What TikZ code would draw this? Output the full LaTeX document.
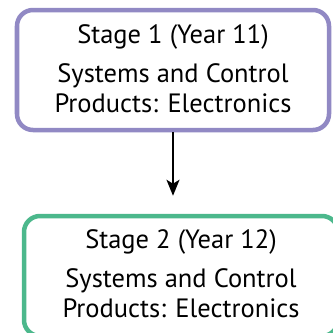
\documentclass[tikz,border=0pt]{standalone}
\usepackage{fontspec}
\setmainfont{PT Sans}
\usetikzlibrary{arrows.meta}
\definecolor{stagepurple}{RGB}{145,137,196}
\definecolor{stagegreen}{RGB}{76,184,140}
\begin{document}
\begin{tikzpicture}[x=1pt,y=-1pt,
  stagebox/.style={draw, line width=4.5pt, rounded corners=16pt, minimum width=312pt, minimum height=120pt, inner sep=0pt},
  lbl/.style={font=\fontsize{26.5}{30}\selectfont, anchor=base, inner sep=0pt}]
\useasboundingbox (0,0) rectangle (333,333);
\node[stagebox, draw=stagepurple] (s1) at (173,70) {};
\node[lbl] (s1a) at (173,43) {Stage 1 (Year 11)};
\node[lbl] (s1b) at (173,82) {Systems and Control};
\node[lbl] (s1c) at (173,112) {Products: Electronics};
\node[stagebox, draw=stagegreen, minimum width=314pt] (s2) at (181,276) {};
\node[lbl] (s2a) at (181,248) {Stage 2 (Year 12)};
\node[lbl] (s2b) at (181,287) {Systems and Control};
\node[lbl] (s2c) at (181,317) {Products: Electronics};
\draw[line width=2pt, -{Stealth[length=16pt,width=13pt,inset=4pt]}, shorten >=18pt]
  (s1.south) -- (s1.south |- s2.north);
\end{tikzpicture}
\end{document}
